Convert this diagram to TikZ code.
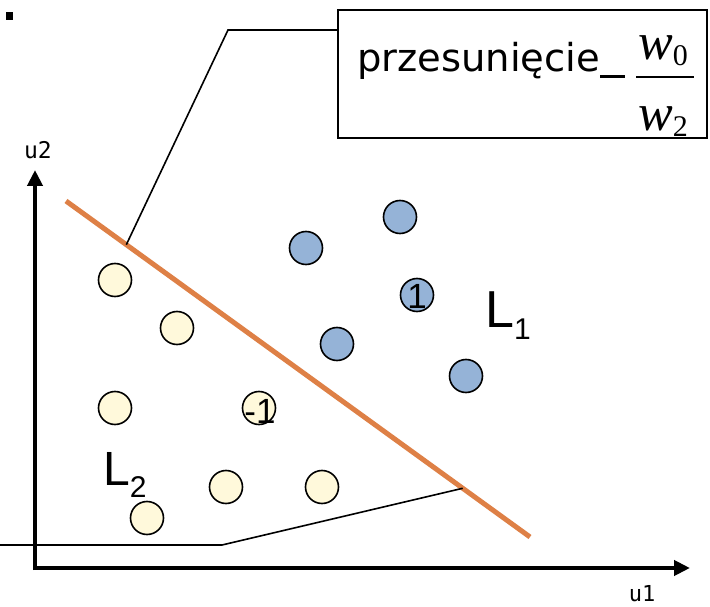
\documentclass[tikz,border=0pt]{standalone}
\usepackage{fontspec}
\setmainfont{DejaVu Sans}
\newfontfamily\arialf{Liberation Sans}
\newfontfamily\tnrf{Liberation Serif}
\newfontfamily\monof{DejaVu Sans Mono}
\usetikzlibrary{arrows.meta,calc}
\definecolor{sepline}{RGB}{222,128,70}
\definecolor{yelfill}{RGB}{255,249,219}
\definecolor{bluefill}{RGB}{149,179,215}
\tikzset{
  yel/.style={circle,draw=black,line width=1.6pt,fill=yelfill,minimum size=33pt,inner sep=0pt},
  blu/.style={circle,draw=black,line width=1.6pt,fill=bluefill,minimum size=33pt,inner sep=0pt},
  axis/.style={line width=4pt,-{Triangle[length=16pt,width=15pt]}},
  callout/.style={line width=1.6pt,black},
  lbl/.style={font=\arialf\fontsize{35}{36}\selectfont,inner sep=0pt}
}
\begin{document}
\begin{tikzpicture}[x=1pt,y=-1pt]
\useasboundingbox (0,0) rectangle (710,607);
% bullet
\fill (6,12) rectangle (13,20);
% box
\node[draw,line width=2pt,minimum width=369pt,minimum height=128pt,anchor=north west,inner sep=0pt] (box) at (337,9) {};
\node[anchor=base west,inner sep=0pt,font=\fontsize{38.5}{42}\selectfont] (txt) at (357,72) {przesunięcie};
\draw[line width=3pt] (600,77) -- (625,77);
\draw[line width=2pt] (636,77) -- (694,77);
\node[anchor=base west,inner sep=0pt,font=\tnrf\itshape\fontsize{52}{56}\selectfont] (wz) at (638,60) {w\raisebox{-6pt}{\upshape\fontsize{30}{32}\selectfont 0}};
\node[anchor=base west,inner sep=0pt,font=\tnrf\itshape\fontsize{52}{56}\selectfont] (wt) at (638,131) {w\raisebox{-6pt}{\upshape\fontsize{30}{32}\selectfont 2}};
% axes
\coordinate (origin) at (35,568);
\coordinate (ytip) at (35,170);
\coordinate (xtip) at (690,568);
\draw[axis] ($(origin)+(0,2)$) -- (ytip);
\draw[axis] ($(origin)+(-2,0)$) -- (xtip);
\node[font=\monof\fontsize{23}{25}\selectfont,inner sep=0pt] (u2) at (38,150) {u2};
\node[font=\monof\fontsize{22}{24}\selectfont,inner sep=0pt,anchor=base] (u1) at (642,601) {u1};
% separating line
\coordinate (o1) at (66,201);
\coordinate (o2) at (530,537);
\draw[sepline,line width=5pt] (o1) -- (o2);
% callouts
\coordinate (c1) at ($(o1)!0.13!(o2)$);
\coordinate (k1) at (228,30);
\draw[callout] (c1) -- (k1) -- (k1 -| box.west);
\coordinate (c2) at ($(o1)!0.855!(o2)$);
\coordinate (k2) at (222,545);
\coordinate (k3) at (0,545);
\draw[callout] (c2) -- (k2) -- (k3);
% yellow points
\node[yel] (y1) at (115,280) {};
\node[yel] (y2) at (177,328) {};
\node[yel] (y3) at (115,408) {};
\node[yel] (y4) at (259,408) {};
\node[yel] (y5) at (226,487) {};
\node[yel] (y6) at (322,487) {};
\node[yel] (y7) at (147,518) {};
% blue points
\node[blu] (b1) at (400,217) {};
\node[blu] (b2) at (306,248) {};
\node[blu] (b3) at (417,295) {};
\node[blu] (b4) at (337,344) {};
\node[blu] (b5) at (466,376) {};
% labels in points
\node[lbl] (m1) at ($(y4)+(1,3)$) {-1};
\node[lbl] (p1) at ($(b3)+(0,1)$) {1};
% class labels
\node[anchor=base west,inner sep=0pt,font=\arialf\fontsize{52}{54}\selectfont] (L1) at (485,327) {L\raisebox{-12pt}{\fontsize{30}{32}\selectfont 1}};
\node[anchor=base west,inner sep=0pt,font=\arialf\fontsize{48}{50}\selectfont] (L2) at (103,485) {L\raisebox{-12pt}{\fontsize{30}{32}\selectfont 2}};
\end{tikzpicture}
\end{document}
